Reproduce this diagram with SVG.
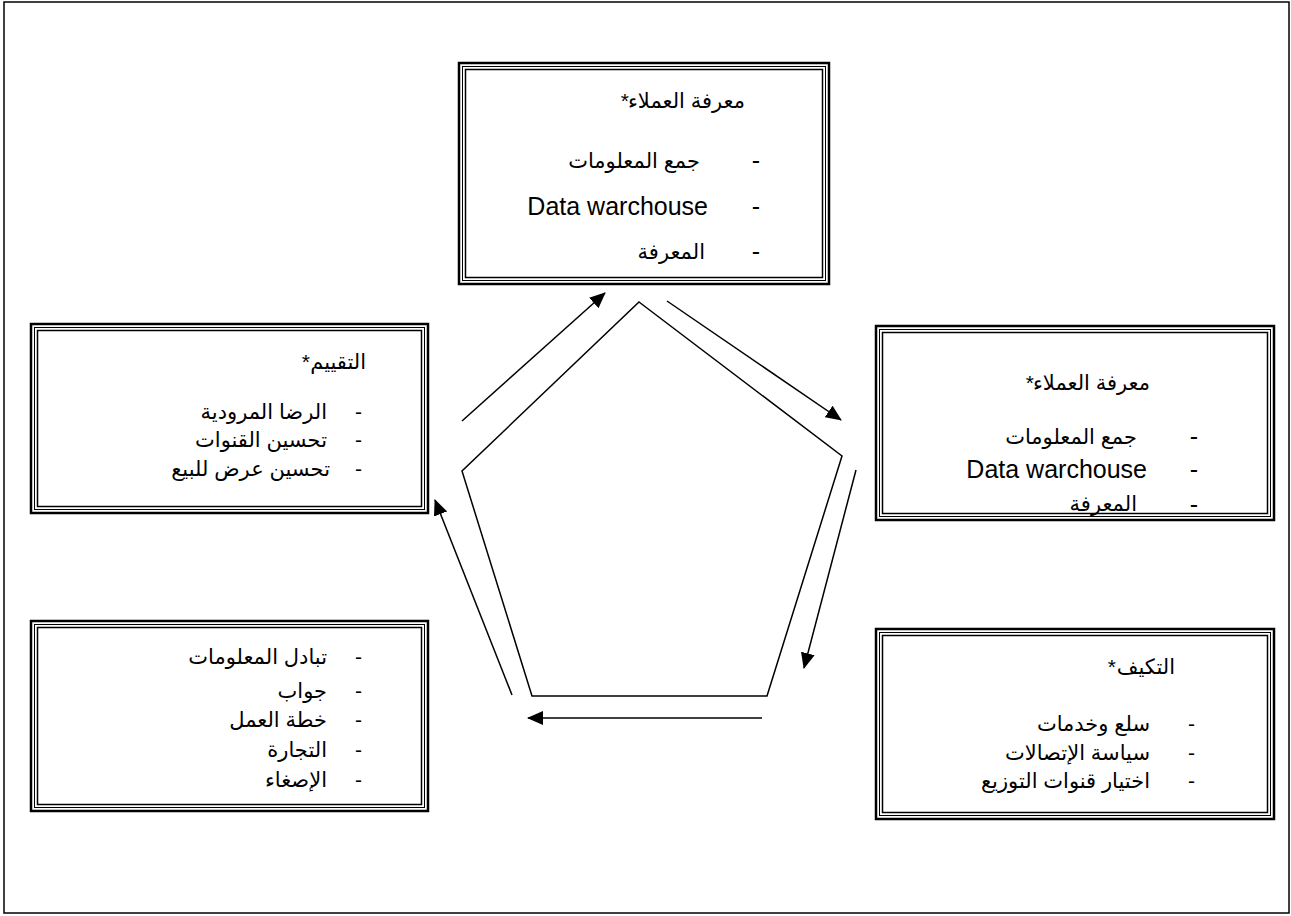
<svg xmlns="http://www.w3.org/2000/svg" width="1291" height="916" viewBox="0 0 1291 916">
  <style>
    .frame { fill: none; stroke: #000; stroke-width: 1.5; }
    .outer { fill: #fff; stroke: #000; stroke-width: 2.5; }
    .mid { fill: none; stroke: #000; stroke-width: 1; }
    .inner { fill: none; stroke: #000; stroke-width: 1.5; }
    .edge { fill: none; stroke: #000; stroke-width: 1.5; }
    .conn { fill: none; stroke: #000; stroke-width: 1.5; }
    .t { font-family: "Liberation Sans", "DejaVu Sans", sans-serif; fill: #000; text-anchor: end; }
    .a { font-size: 21px; }
    .c { font-size: 25px; }
  </style>
  <defs>
    <marker id="arrow" viewBox="0 0 16 14" refX="15" refY="7" markerWidth="16" markerHeight="14" markerUnits="userSpaceOnUse" orient="auto">
      <path d="M0,0 L16,7 L0,14 Z" fill="#000"/>
    </marker>
  </defs>

  <!-- page frame -->
  <rect class="frame" x="4" y="2" width="1285" height="911"/>

  <!-- central pentagon -->
  <polygon id="cycle" class="edge" points="639,302 842,456 767,696 532,696 462,471"/>

  <!-- top: customer knowledge -->
  <g id="node-knowledge-top">
    <rect class="outer" x="459" y="63" width="370" height="221"/>
    <rect class="mid" x="462.5" y="66.5" width="363" height="214"/>
    <rect class="inner" x="465.5" y="69.5" width="357" height="208"/>
    <text class="t a" x="745" y="108">معرفة العملاء</text>
    <text class="t a" x="629" y="108">*</text>
    <text class="t c" x="760" y="169">-</text>
    <text class="t a" x="700" y="168">جمع المعلومات</text>
    <text class="t c" x="760" y="215">-</text>
    <text class="t c" x="708" y="215">Data warchouse</text>
    <text class="t c" x="760" y="260">-</text>
    <text class="t a" x="705" y="259">المعرفة</text>
  </g>

  <!-- right: customer knowledge -->
  <g id="node-knowledge-right">
    <rect class="outer" x="876" y="326" width="398" height="194"/>
    <rect class="mid" x="879.5" y="329.5" width="391" height="187"/>
    <rect class="inner" x="882.5" y="332.5" width="385" height="181"/>
    <text class="t a" x="1150" y="390">معرفة العملاء</text>
    <text class="t a" x="1034" y="390">*</text>
    <text class="t c" x="1198" y="445">-</text>
    <text class="t a" x="1137" y="444">جمع المعلومات</text>
    <text class="t c" x="1198" y="478">-</text>
    <text class="t c" x="1147" y="478">Data warchouse</text>
    <text class="t c" x="1198" y="513">-</text>
    <text class="t a" x="1137" y="511">المعرفة</text>
  </g>

  <!-- left: evaluation -->
  <g id="node-evaluation">
    <rect class="outer" x="31" y="324" width="397" height="189"/>
    <rect class="mid" x="34.5" y="327.5" width="390" height="182"/>
    <rect class="inner" x="37.5" y="330.5" width="384" height="176"/>
    <text class="t a" x="366" y="369">التقييم</text>
    <text class="t a" x="310" y="369">*</text>
    <text class="t a" x="362" y="419">-</text>
    <text class="t a" x="327" y="419">الرضا المرودية</text>
    <text class="t a" x="362" y="447">-</text>
    <text class="t a" x="327" y="447">تحسين القنوات</text>
    <text class="t a" x="362" y="476">-</text>
    <text class="t a" x="330" y="476">تحسين عرض للبيع</text>
  </g>

  <!-- bottom left: interaction -->
  <g id="node-interaction">
    <rect class="outer" x="31" y="621" width="397" height="190"/>
    <rect class="mid" x="34.5" y="624.5" width="390" height="183"/>
    <rect class="inner" x="37.5" y="627.5" width="384" height="177"/>
    <text class="t a" x="362" y="664">-</text>
    <text class="t a" x="327" y="664">تبادل المعلومات</text>
    <text class="t a" x="362" y="698">-</text>
    <text class="t a" x="327" y="698">جواب</text>
    <text class="t a" x="362" y="727">-</text>
    <text class="t a" x="327" y="727">خطة العمل</text>
    <text class="t a" x="362" y="757">-</text>
    <text class="t a" x="327" y="757">التجارة</text>
    <text class="t a" x="362" y="787">-</text>
    <text class="t a" x="327" y="787">الإصغاء</text>
  </g>

  <!-- bottom right: adaptation -->
  <g id="node-adaptation">
    <rect class="outer" x="876" y="629" width="398" height="190"/>
    <rect class="mid" x="879.5" y="632.5" width="391" height="183"/>
    <rect class="inner" x="882.5" y="635.5" width="385" height="177"/>
    <text class="t a" x="1175" y="674">التكيف</text>
    <text class="t a" x="1116" y="674">*</text>
    <text class="t a" x="1195" y="731">-</text>
    <text class="t a" x="1150" y="731">سلع وخدمات</text>
    <text class="t a" x="1195" y="760">-</text>
    <text class="t a" x="1150" y="760">سياسة الإتصالات</text>
    <text class="t a" x="1195" y="788">-</text>
    <text class="t a" x="1150" y="788">اختيار قنوات التوزيع</text>
  </g>

  <!-- cycle arrows -->
  <g id="connectors">
    <line class="conn" x1="462" y1="421" x2="605" y2="293" marker-end="url(#arrow)"/>
    <line class="conn" x1="667" y1="301" x2="841" y2="420" marker-end="url(#arrow)"/>
    <line class="conn" x1="856" y1="470" x2="804" y2="668" marker-end="url(#arrow)"/>
    <line class="conn" x1="762" y1="718" x2="528" y2="718" marker-end="url(#arrow)"/>
    <line class="conn" x1="512" y1="695" x2="435" y2="500" marker-end="url(#arrow)"/>
  </g>
</svg>
